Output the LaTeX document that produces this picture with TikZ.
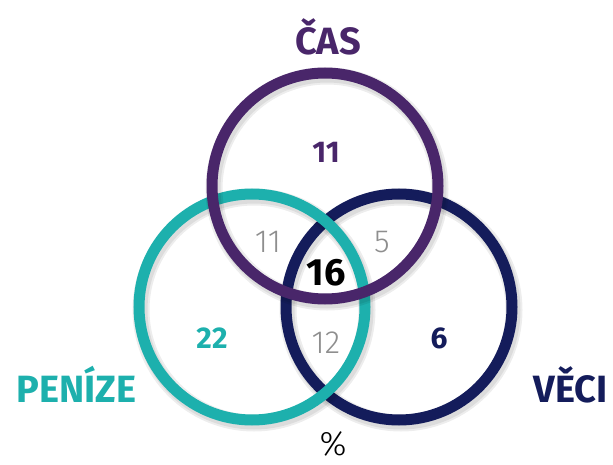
\documentclass[tikz,border=0pt]{standalone}
\usepackage{fontspec}
\setmainfont{Fira Sans}
\newfontfamily\boldfont{Fira Sans Bold}
\newfontfamily\lightfont{Fira Sans Light}
\definecolor{cpurple}{HTML}{49266A}
\definecolor{cteal}{HTML}{1DB0AD}
\definecolor{cnavy}{HTML}{141C5B}
\definecolor{cgray}{HTML}{8E8E8E}
\begin{document}
\begin{tikzpicture}[x=1pt,y=-1pt,
  ring/.style={circle,inner sep=0pt,minimum size=226pt,line width=11pt,draw=#1},
  ringshadow/.style={circle,inner sep=0pt,minimum size=226pt,line width=#1,draw=black,draw opacity=0.07},
  biglabel/.style={anchor=base,inner sep=0pt,font=\boldfont\fontsize{38}{38}\selectfont},
  numlabel/.style={anchor=base,inner sep=0pt,font=\boldfont\fontsize{30}{30}\selectfont},
  graylabel/.style={anchor=base,inner sep=0pt,text=cgray,font=\lightfont\fontsize{32}{32}\selectfont}]
\useasboundingbox (0,0) rectangle (613,465);
% navy ring
\node[ringshadow=17pt] (sn1) at (401,310) {};
\node[ringshadow=13pt] (sn2) at (401,310) {};
\node[ring=cnavy] (veci) at (399,307) {};
% teal ring
\node[ringshadow=17pt] (st1) at (254,310) {};
\node[ringshadow=13pt] (st2) at (254,310) {};
\node[ring=cteal] (penize) at (252,307) {};
% purple ring
\node[ringshadow=17pt] (sp1) at (327,189) {};
\node[ringshadow=13pt] (sp2) at (327,189) {};
\node[ring=cpurple] (cas) at (325,186) {};
% labels
\node[biglabel,text=cpurple] (tcas) at (328,55) {ČAS};
\node[biglabel,text=cteal] (tpen) at (76.5,402) {PENÍZE};
\node[biglabel,text=cnavy] (tvec) at (570.5,402) {VĚCI};
% numbers
\node[numlabel,text=cpurple] (n11) at (326,163) {11};
\node[numlabel,text=cteal] (n22) at (212,348) {22};
\node[numlabel,text=cnavy] (n6) at (439,348) {6};
\node[anchor=base,inner sep=0pt,font=\boldfont\fontsize{38}{38}\selectfont] (n16) at (326,285) {16};
\node[graylabel] (g11) at (268,252) {11};
\node[graylabel] (g5) at (382,252) {5};
\node[graylabel] (g12) at (326,353) {12};
\node[anchor=base,inner sep=0pt,font=\lightfont\fontsize{34}{34}\selectfont] (pct) at (333,455) {\%};
\end{tikzpicture}
\end{document}
